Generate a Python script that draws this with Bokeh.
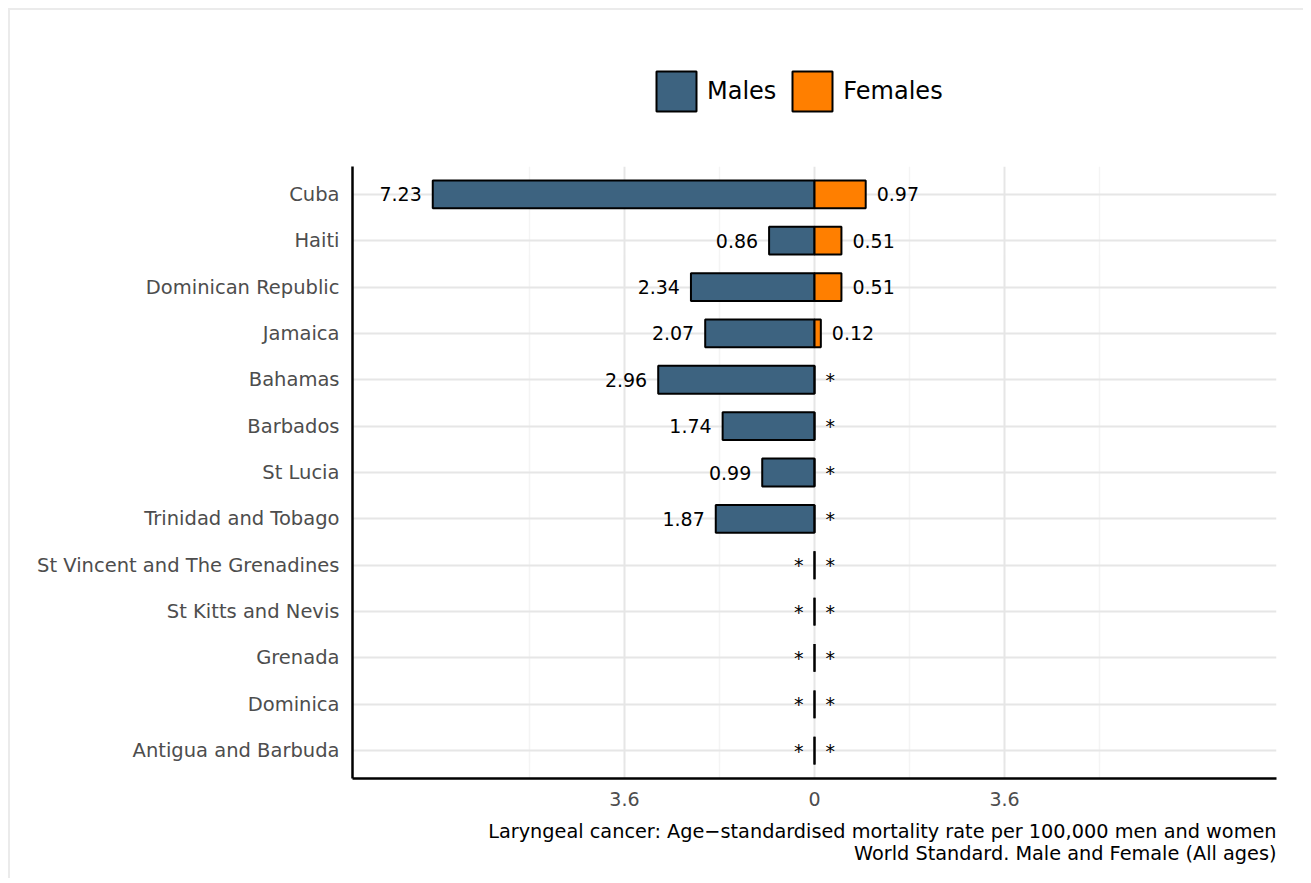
from bokeh.plotting import figure
from bokeh.layouts import column
from bokeh.models import (FactorRange, Range1d, FixedTicker, Legend, LegendItem,
                          Title, ColumnDataSource)
from bokeh.core.properties import value
from bokeh.embed import file_html
from bokeh.resources import INLINE

countries = ["Cuba", "Haiti", "Dominican Republic", "Jamaica", "Bahamas", "Barbados",
             "St Lucia", "Trinidad and Tobago", "St Vincent and The Grenadines",
             "St Kitts and Nevis", "Grenada", "Dominica", "Antigua and Barbuda"]
males = [7.23, 0.86, 2.34, 2.07, 2.96, 1.74, 0.99, 1.87, 0, 0, 0, 0, 0]
females = [0.97, 0.51, 0.51, 0.12, 0, 0, 0, 0, 0, 0, 0, 0, 0]
series_names = ["Males", "Females"]
x_ticks = [-3.6, 0, 3.6]
x_tick_labels = ["3.6", "0", "3.6"]
x_minor_ticks = [-5.4, -1.8, 1.8, 5.4]
title_lines = ["Laryngeal cancer: Age\u2212standardised mortality rate per 100,000 men and women",
               "World Standard. Male and Female (All ages)"]

MALE_COL = "#3D6380"
FEMALE_COL = "#FF7F00"
FONT = "DejaVu Sans"
W = 1293

src = ColumnDataSource(dict(
    country=countries,
    mleft=[-v for v in males],
    fright=females,
    zero=[0] * len(countries),
    mlab=[f"{v:.2f}" if v > 0 else "*" for v in males],
    flab=[f"{v:.2f}" if v > 0 else "*" for v in females],
))

# ---------------- legend strip (own small figure above the chart) ----------------
lg = figure(width=W, height=150, x_range=Range1d(0, 1), y_range=Range1d(0, 1),
            output_backend="svg", toolbar_location=None,
            min_border=0, min_border_left=0, min_border_right=0,
            min_border_top=0, min_border_bottom=0,
            x_axis_type=None, y_axis_type=None)
lg.outline_line_color = None
lg.grid.visible = False
lg.title.visible = False
# one key swatch per series, kept outside the visible range of this strip
key_src = ColumnDataSource(dict(y=[-5], left=[0], right=[0]))
lm = lg.hbar(y="y", left="left", right="right", height=0.5, source=key_src,
             fill_color=MALE_COL, line_color="black", line_width=2)
lf = lg.hbar(y="y", left="left", right="right", height=0.5, source=key_src,
             fill_color=FEMALE_COL, line_color="black", line_width=2)
legend = Legend(items=[LegendItem(label=series_names[0], renderers=[lm]),
                       LegendItem(label=series_names[1], renderers=[lf])],
                orientation="horizontal", location=(299, 44),
                glyph_width=50, glyph_height=50, label_standoff=6, spacing=11,
                padding=0, margin=0, border_line_color=None,
                background_fill_alpha=0,
                label_text_font=FONT, label_text_font_size="24px",
                label_text_color="black")
lg.add_layout(legend, "center")

# ---------------- main chart ----------------
yr = FactorRange(factors=countries[::-1], range_padding=0.1, range_padding_units="absolute")

p = figure(width=W, height=718, y_range=yr, x_range=Range1d(-8.75, 8.75),
           output_backend="svg", toolbar_location=None,
           min_border_left=342, min_border_right=27, min_border_top=6,
           min_border_bottom=100)
p.outline_line_color = None
p.background_fill_color = "white"
p.title.visible = False

rm = p.hbar(y="country", left="mleft", right="zero", height=0.6, source=src,
            fill_color=MALE_COL, line_color="black", line_width=2)
rf = p.hbar(y="country", left="zero", right="fright", height=0.6, source=src,
            fill_color=FEMALE_COL, line_color="black", line_width=2)

p.text(x="mleft", y="country", text="mlab", source=src, x_offset=-11,
       text_align="right", text_baseline="middle", text_font=value(FONT),
       text_font_size="19px", text_color="black")
p.text(x="fright", y="country", text="flab", source=src, x_offset=11,
       text_align="left", text_baseline="middle", text_font=value(FONT),
       text_font_size="19px", text_color="black")

p.xaxis.ticker = FixedTicker(ticks=x_ticks, minor_ticks=x_minor_ticks)
p.xaxis.major_label_overrides = dict(zip(x_ticks, x_tick_labels))
for ax in (p.xaxis[0], p.yaxis[0]):
    ax.axis_line_color = "black"
    ax.axis_line_width = 2.5
    ax.major_tick_line_color = None
    ax.minor_tick_line_color = None
    ax.major_tick_out = 0
    ax.major_tick_in = 0
    ax.minor_tick_out = 0
    ax.major_label_text_font = FONT
    ax.major_label_text_color = "#4D4D4D"
p.yaxis.major_label_text_font_size = "19.5px"
p.xaxis.major_label_text_font_size = "19px"
p.xaxis.major_label_standoff = 13
p.yaxis.major_label_standoff = 13

p.xgrid.grid_line_color = "#E6E6E6"
p.xgrid.grid_line_width = 2
p.xgrid.minor_grid_line_color = "#F4F4F4"
p.xgrid.minor_grid_line_width = 1.5
p.ygrid.grid_line_color = "#E6E6E6"
p.ygrid.grid_line_width = 2

# caption lines below the x axis, right aligned
t1 = Title(text=title_lines[0], align="right", standoff=19,
           text_font=FONT, text_font_size="19.3px", text_font_style="normal",
           text_color="black")
t2 = Title(text=title_lines[1], align="right", standoff=-25,
           text_font=FONT, text_font_size="19.3px", text_font_style="normal",
           text_color="black")
p.add_layout(t1, "below")
p.add_layout(t2, "below")

page = column(lg, p, spacing=0,
              styles={"border-top": "2px solid #ebebeb", "border-left": "2px solid #ebebeb",
                      "margin-top": "8px", "margin-left": "8px"})

open("out.html", "w").write(file_html(page, INLINE))
